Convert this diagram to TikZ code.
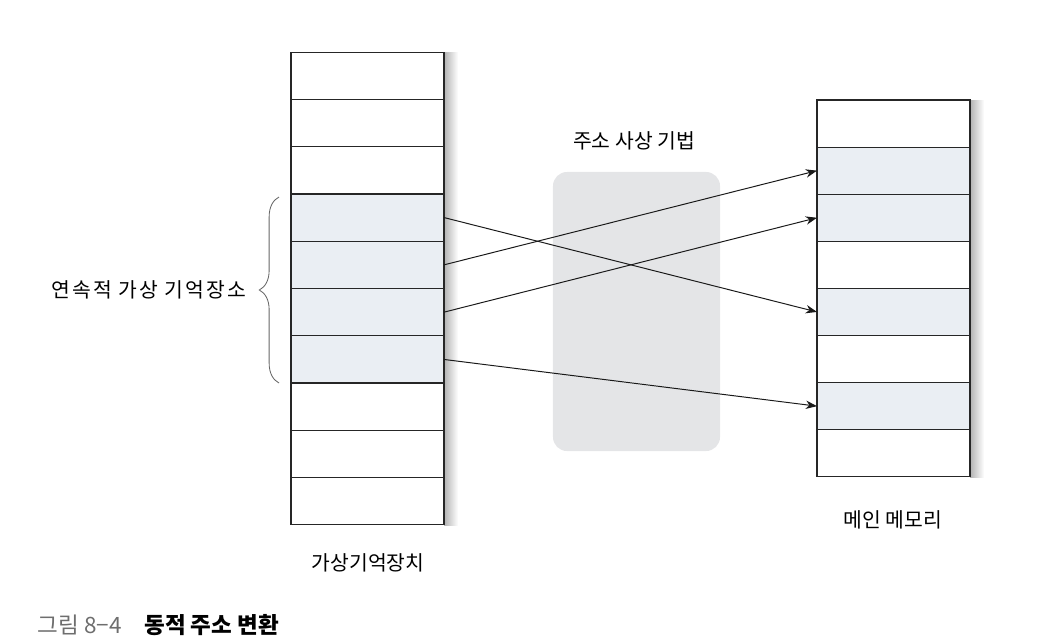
\documentclass[tikz,border=0pt]{standalone}
\usepackage{fontspec}
\setmainfont{Noto Sans CJK KR}
\usepackage{xcolor}
\usetikzlibrary{arrows.meta, positioning, calc, decorations.pathreplacing}

\definecolor{cellblue}{HTML}{EAEEF3}
\definecolor{mapgray}{HTML}{E4E5E7}
\definecolor{capgray}{HTML}{6E6E6E}

\begin{document}
\begin{tikzpicture}[
    x=0.025cm, y=-0.025cm,
    every node/.style={font=\fontsize{14.5}{17}\selectfont},
    cell/.style={rectangle, draw=black!85, fill=white, line width=0.8pt, minimum width=3.825cm, minimum height=1.1775cm, inner sep=0pt, outer sep=0pt},
    usedcell/.style={cell, fill=cellblue},
    arrow/.style={-{Stealth[length=8pt, width=6pt]}, line width=0.7pt, draw=black!90},
    colshadow/.style={left color=black!30, right color=white, draw=none}
]
\useasboundingbox (0,0) rectangle (1062,640);

% Shadows
\fill [colshadow] (444,52) rectangle (458,525);
\fill [colshadow] (970,100) rectangle (984,477);

% Mapping box
\node (map) [rectangle, fill=mapgray, rounded corners=10pt, minimum width=4.175cm, minimum height=6.975cm] at (636.5,311.5) {};
\node (maplabel) at (634,141) {주소 사상 기법};

% Virtual storage
\foreach \i in {1,...,10} {
  \node (v\i) [cell] at (367.5,{52+(\i-0.5)*47.3}) {};
}
\foreach \i in {4,...,7} {
  \node [usedcell] at (v\i) {};
}
\node (vlabel) at (368,563) {가상기억장치};

% Main memory
\foreach \i in {1,...,8} {
  \node (m\i) [cell] at (893.5,{100+(\i-0.5)*47.1}) {};
}
\foreach \i in {2,3,5,7} {
  \node [usedcell] at (m\i) {};
}
\node (mlabel) at (893,520) {메인 메모리};

% Brace
\coordinate (btop) at (279,197);
\coordinate (bbot) at (279,383);
\draw [decorate, decoration={brace, amplitude=14pt, mirror}, draw=black!60, line width=0.6pt] (btop) -- (bbot)
    node (blabel) [midway, left=20pt] {\addfontfeature{LetterSpace=10}연속적 가상 기억장소};

% Arrows
\draw [arrow] (v4.east) -- (m5.west);
\draw [arrow] (v5.east) -- (m2.west);
\draw [arrow] (v6.east) -- (m3.west);
\draw [arrow] (v7.east) -- (m7.west);

% Caption
\node (caption) [anchor=west, font=\fontsize{16}{19}\selectfont] at (33,625) {\textcolor{capgray}{그림 8−4}\quad\textbf{동적 주소 변환}};

\end{tikzpicture}
\end{document}
